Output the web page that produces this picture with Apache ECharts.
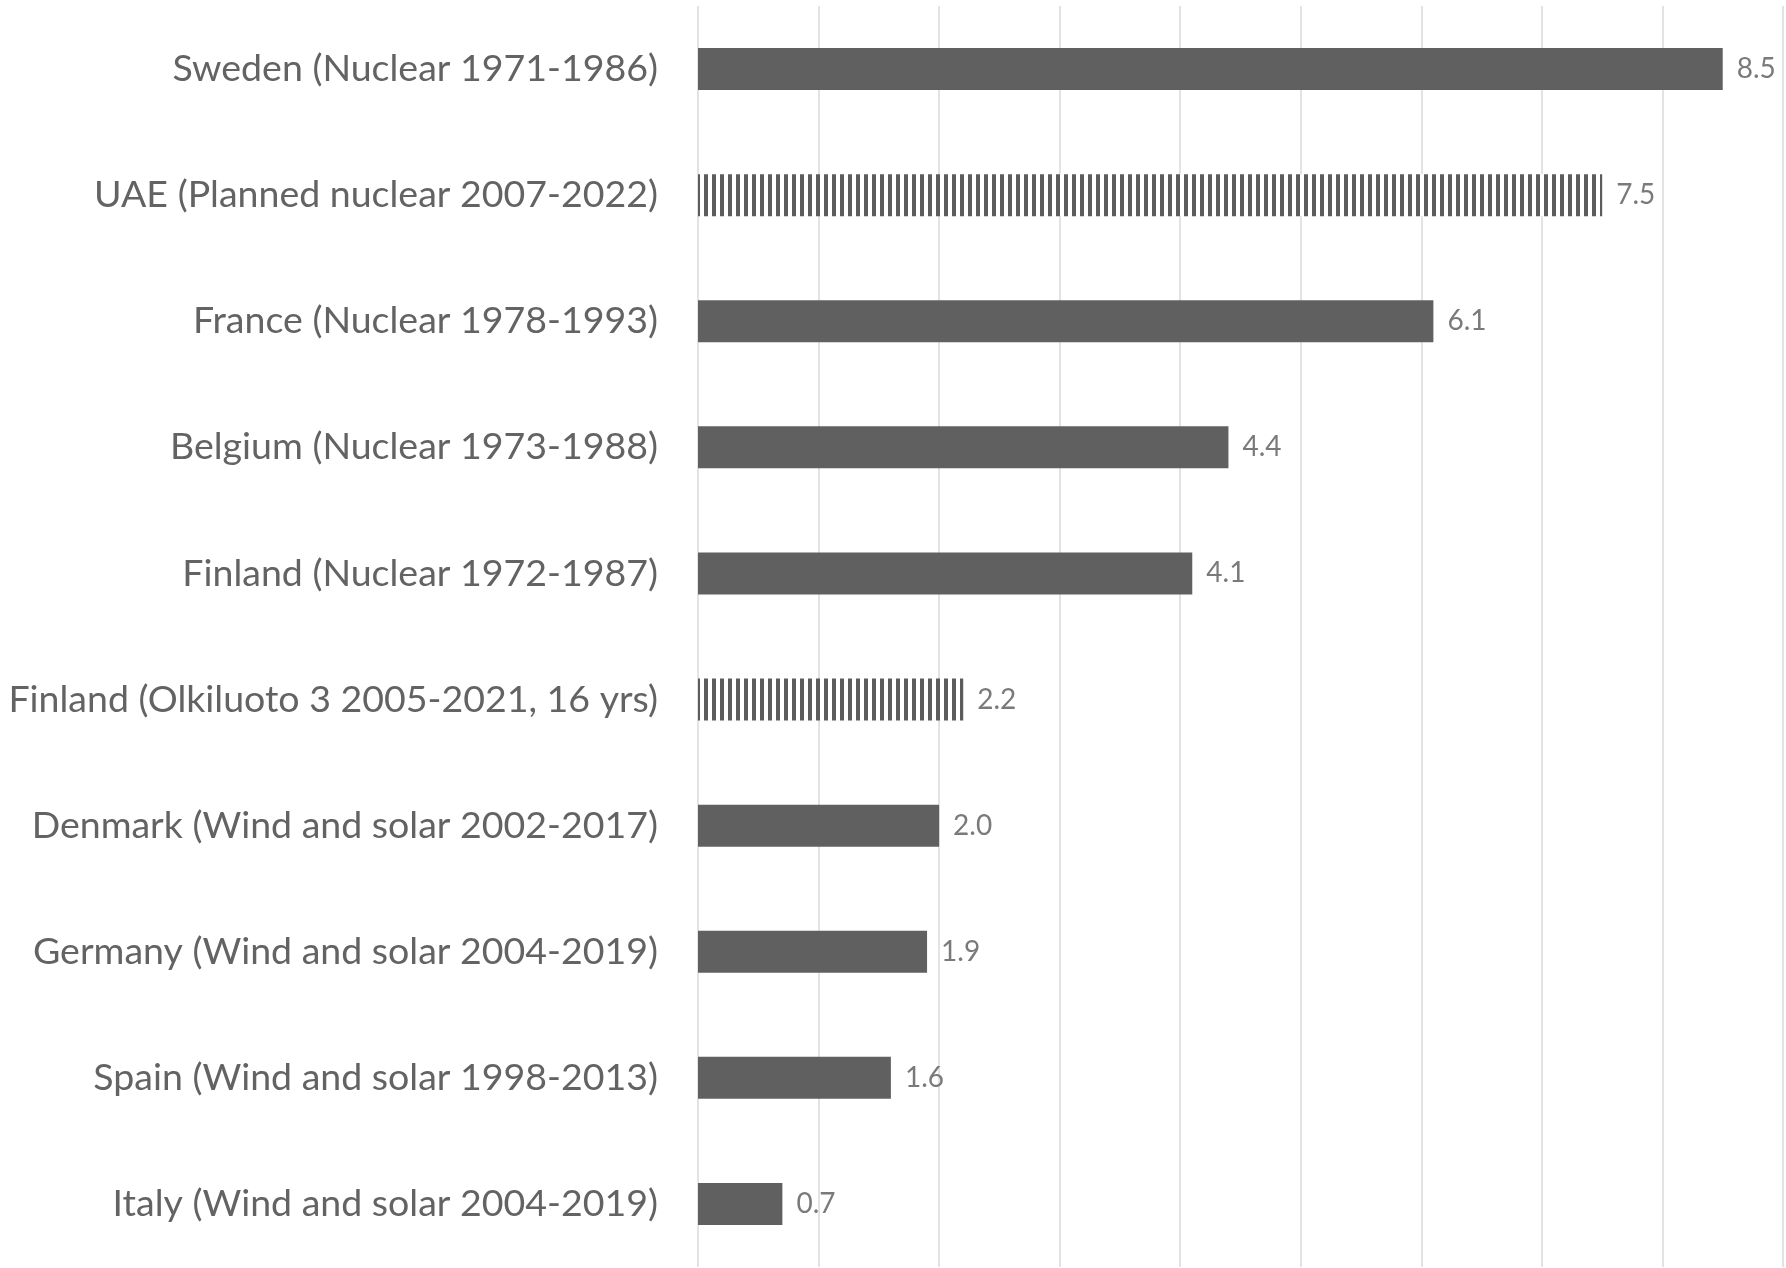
<!DOCTYPE html>
<html>
<head>
<meta charset="utf-8">
<title>Years to build out low-carbon electricity</title>
<script src="https://cdn.jsdelivr.net/npm/echarts@6/dist/echarts.min.js"></script>
<style>
  html, body { margin: 0; padding: 0; background: #ffffff; }
  #chart { width: 1786px; height: 1268px; }
</style>
</head>
<body>
<div id="chart"></div>
<script>
// Categories, top to bottom
const categories = [
  'Sweden (Nuclear 1971-1986)',
  'UAE (Planned nuclear 2007-2022)',
  'France (Nuclear 1978-1993)',
  'Belgium (Nuclear 1973-1988)',
  'Finland (Nuclear 1972-1987)',
  'Finland (Olkiluoto 3 2005-2021, 16 yrs)',
  'Denmark (Wind and solar 2002-2017)',
  'Germany (Wind and solar 2004-2019)',
  'Spain (Wind and solar 1998-2013)',
  'Italy (Wind and solar 2004-2019)'
];
const values = [8.5, 7.5, 6.1, 4.4, 4.1, 2.2, 2.0, 1.9, 1.6, 0.7];
// Planned / single-project rows are drawn with a striped fill
const striped = [false, true, false, false, false, true, false, false, false, false];

const axisMin = 0;
const axisMax = 9;
const axisStep = 1;

// Vertical stripe pattern for the striped bars
function stripePattern() {
  const c = document.createElement('canvas');
  c.width = 8; c.height = 8;
  const g = c.getContext('2d');
  g.fillStyle = '#ffffff';
  g.fillRect(0, 0, 8, 8);
  g.fillStyle = '#5c5c5c';
  g.fillRect(0, 0, 4, 8);
  return c;
}
const stripes = { image: stripePattern(), repeat: 'repeat' };
const solid = '#606060';

const seriesData = values.map((v, i) => ({
  value: v,
  itemStyle: { color: striped[i] ? stripes : solid }
}));

const chart = echarts.init(document.getElementById('chart'), null, { renderer: 'canvas' });
chart.setOption({
  backgroundColor: '#ffffff',
  animation: false,
  grid: { left: 698, right: 3, top: 6, bottom: 1, containLabel: false },
  xAxis: {
    type: 'value',
    min: axisMin,
    max: axisMax,
    interval: axisStep,
    axisLine: { show: false },
    axisTick: { show: false },
    axisLabel: { show: false },
    splitLine: { show: true, lineStyle: { color: '#e3e3e3', width: 2 } }
  },
  yAxis: {
    type: 'category',
    data: categories,
    inverse: true,
    axisLine: { show: false },
    axisTick: { show: false },
    axisLabel: {
      margin: 40,
      color: '#636363',
      fontFamily: 'Lato',
      fontSize: 37.5
    }
  },
  series: [{
    type: 'bar',
    data: seriesData,
    barWidth: 42,
    label: {
      show: true,
      position: 'right',
      distance: 14,
      color: '#7a7a7a',
      fontFamily: 'Lato',
      fontSize: 28,
      formatter: p => p.value.toFixed(1)
    }
  }]
});
</script>
</body>
</html>
